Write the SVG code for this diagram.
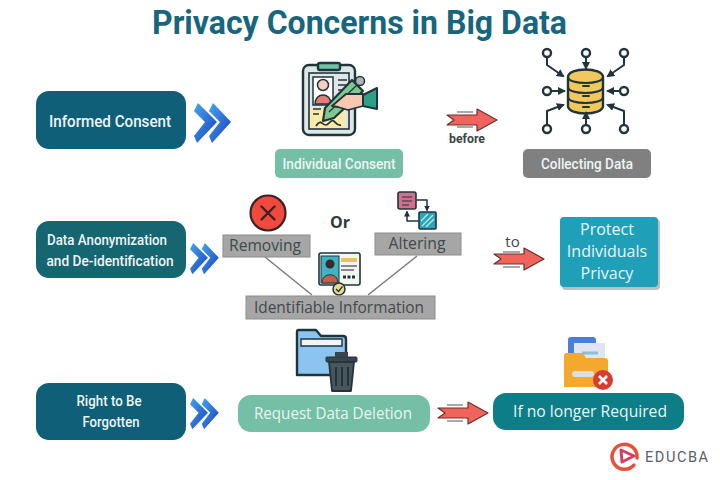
<svg xmlns="http://www.w3.org/2000/svg" width="720" height="480" viewBox="0 0 720 480">
<style>
text{font-family:"Roboto","Liberation Sans",sans-serif}
.c{text-anchor:middle}
.w{fill:#eef5f5;font-weight:500}
text.o{font-family:"Open Sans","Noto Sans",sans-serif}
.g{fill:#a6a6a6;stroke:#8c8c8c;stroke-width:1}
text.gt{fill:#3f4a4a;font-size:16px;font-family:"Open Sans","Noto Sans",sans-serif}
.ol{stroke:#20343c;stroke-width:2.4;stroke-linejoin:round;stroke-linecap:round}
.ln{fill:none;stroke:#20343c;stroke-width:2;stroke-linecap:round;stroke-linejoin:round}
.rd{fill:#f0645c;stroke:#6a3030;stroke-width:1.2;stroke-linejoin:round}
.sp{stroke:#555;stroke-width:1.2;fill:none}
.n{fill:#fff;stroke:#20343c;stroke-width:2.4}
</style>
<defs>
<linearGradient id="cv" x1="0" y1="0" x2="1" y2="1"><stop offset="0" stop-color="#43a6ea"/><stop offset="1" stop-color="#1a3fc0"/></linearGradient>
<g id="chev"><path d="M4 0L23 19L3 40L0 33L11 19L0 8Z" fill="url(#cv)"/><path d="M19 0L37 19L18 40L15 33L26 19L15 8Z" fill="url(#cv)"/></g>
<g id="arrow"><path class="rd" d="M0 -5H30V-11L50 0L30 11V5H0L7 0Z"/></g>
<marker id="ah" markerWidth="4" markerHeight="4" refX="3" refY="2" orient="auto"><path d="M0 0L4 2L0 4Z" fill="#20343c"/></marker>
</defs>
<rect width="720" height="480" fill="#fff"/>
<text id="title" class="c" x="359.500" y="34" font-size="34" font-weight="700" fill="#17667e" textLength="415" lengthAdjust="spacingAndGlyphs">Privacy Concerns in Big Data</text>

<g id="connectors">
<path d="M265 257L312 295M417 256L368 295" stroke="#7a7a7a" stroke-width="1.500" fill="none"/>
<g id="arrow-before"><use href="#arrow" x="447" y="120"/><path class="sp" d="M457 112H473M457 127H473"/></g>
<g id="arrow-to"><use href="#arrow" x="494" y="259"/><path class="sp" d="M503 252H520M503 267H520"/></g>
<g id="arrow-3"><use href="#arrow" x="438" y="413"/><path class="sp" d="M447 405H463M447 421H463"/></g>
<use href="#chev" x="194" y="103"/>
<g transform="translate(190 243) scale(.78)"><use href="#chev"/></g>
<g transform="translate(190 398) scale(.78)"><use href="#chev"/></g>
</g>

<g id="informed-consent"><rect x="36" y="91" width="150" height="58" rx="13" fill="#0f5f78"/><text class="c w" x="110" y="127" font-size="16" textLength="122" lengthAdjust="spacingAndGlyphs">Informed Consent</text></g>
<g id="data-anonymization"><rect x="36" y="221" width="150" height="57" rx="13" fill="#156670"/>
<text class="c w" x="107" y="245" font-size="14.500" textLength="120" lengthAdjust="spacingAndGlyphs">Data Anonymization</text>
<text class="c w" x="110" y="266" font-size="14.500" textLength="127" lengthAdjust="spacingAndGlyphs">and De-identification</text></g>
<g id="right-forgotten"><rect x="36" y="383" width="150" height="57" rx="13" fill="#0f5f78"/>
<text class="c w" x="109" y="406" font-size="14.500" textLength="65" lengthAdjust="spacingAndGlyphs">Right to Be</text>
<text class="c w" x="111" y="427" font-size="14.500" textLength="57" lengthAdjust="spacingAndGlyphs">Forgotten</text></g>

<g id="individual-consent">
<g id="consent-icon">
<rect x="303" y="65" width="52" height="70" rx="6" fill="#dfe6e8" class="ol"/>
<path d="M309 108H323L345 100V129H309Z" fill="#fde9a8"/>
<rect x="309" y="73" width="40" height="56" fill="none" stroke="#20343c" stroke-width="1.600"/>
<rect x="318" y="63" width="22" height="7" rx="2" fill="#6fc4a8" class="ol"/>
<rect x="313" y="77" width="20" height="28" fill="#fff" stroke="#20343c" stroke-width="1.500"/>
<circle cx="323" cy="85" r="5.500" fill="#f5d0c0" stroke="#20343c" stroke-width="1.500"/>
<path d="M315 104C315 92 331 92 331 104Z" fill="#e87a78" stroke="#20343c" stroke-width="1.500"/>
<path d="M338 80H347M338 85H347M338 90H345M313 109H321M313 114H319" stroke="#20343c" stroke-width="1.500"/>
<path d="M316 126C322 116 323 130 329 123S335 127 341 125" fill="none" stroke="#20343c" stroke-width="1.800"/>
<path d="M325 108L352 80L363 91L334 118L323 121Z" fill="#7fc98f" stroke="#20343c" stroke-width="2.200" stroke-linejoin="round"/>
<path d="M329 112L357 85" stroke="#20343c" stroke-width="1.200"/>
<circle cx="360" cy="81" r="4.500" fill="#aab6b6" stroke="#20343c" stroke-width="1.500"/>
<path d="M332 106L346 94H363V106L348 110L338 107Z" fill="#f6c8b0" stroke="#20343c" stroke-width="1.800" stroke-linejoin="round"/>
<path d="M363 95L377 88V109L363 106Z" fill="#2f9f88" stroke="#20343c" stroke-width="2" stroke-linejoin="round"/>
</g>
<rect x="275" y="149" width="128" height="29" rx="5" fill="#74bfa5"/><text class="c w" x="339" y="169" font-size="15" textLength="113" lengthAdjust="spacingAndGlyphs">Individual Consent</text>
</g>

<g id="collecting-data">
<g id="db-icon">
<path d="M568 77C568 67 603 67 603 77V106C603 116 568 116 568 106Z" fill="#f2c75c" stroke="#20343c" stroke-width="2.400"/>
<path d="M568 77C568 85 603 85 603 77M568 87C568 95 603 95 603 87M568 97C568 105 603 105 603 97" class="ln"/>
<path d="M583 86H589M583 96H589M583 107H589" class="ln"/>
<g marker-end="url(#ah)" class="ln">
<path d="M547 58V65L563 76"/><path d="M586 58V68"/><path d="M624 58V65L608 76"/>
<path d="M552 91H564"/><path d="M619 91H608"/>
<path d="M547 124V111L563 105"/><path d="M586 124V113"/><path d="M624 124V111L608 105"/>
</g>
<circle class="n" cx="547" cy="53" r="4"/><circle class="n" cx="586" cy="53" r="4"/><circle class="n" cx="624" cy="53" r="4"/>
<circle class="n" cx="547" cy="91" r="4"/><circle class="n" cx="624" cy="91" r="4"/>
<circle class="n" cx="547" cy="129" r="4"/><circle class="n" cx="586" cy="129" r="4"/><circle class="n" cx="624" cy="129" r="4"/>
</g>
<rect x="523" y="149" width="128" height="29" rx="5" fill="#808080"/><text class="c w" x="587" y="169" font-size="15" textLength="92" lengthAdjust="spacingAndGlyphs">Collecting Data</text>
</g>
<text id="before" class="c" x="467" y="143" font-size="13" font-weight="700" fill="#3c4646" textLength="36" lengthAdjust="spacingAndGlyphs">before</text>

<g id="removing">
<circle cx="268" cy="213" r="17.500" fill="#f04a3e" stroke="#3a2226" stroke-width="2.200"/>
<path d="M261.500 206.500L274.500 219.500M274.500 206.500L261.500 219.500" stroke="#3a2226" stroke-width="2.400" stroke-linecap="round"/>
<rect class="g" x="223" y="235" width="87" height="22"/><text class="c gt" x="265" y="251" textLength="72" lengthAdjust="spacingAndGlyphs">Removing</text>
</g>
<text id="or" class="c o" x="340" y="228" font-size="16" font-weight="700" fill="#2f3a3a">Or</text>
<g id="altering">
<rect x="398" y="192" width="18" height="17" rx="2" fill="#d0708c" stroke="#20343c" stroke-width="1.600"/>
<path d="M402 197H412M402 201H412M402 205H409" stroke="#20343c" stroke-width="1.200"/>
<rect x="419" y="212" width="17" height="17" rx="1" fill="#2aa6b8" stroke="#20343c" stroke-width="1.600"/>
<path d="M422 226L433 215M426 227L434 219M421 221L428 214" stroke="#bfe9ee" stroke-width="1.200"/>
<path class="ln" marker-end="url(#ah)" style="stroke-width:1.500" d="M417 200H427V210"/>
<path class="ln" marker-end="url(#ah)" style="stroke-width:1.500" d="M418 221H407V212"/>
<rect class="g" x="375" y="233" width="86" height="22"/><text class="c gt" x="417" y="249" textLength="57" lengthAdjust="spacingAndGlyphs">Altering</text>
</g>
<g id="identifiable-information">
<g id="id-icon">
<rect x="319" y="253" width="41" height="32" rx="2" fill="#f5f5f0" stroke="#20343c" stroke-width="1.600"/>
<rect x="321" y="256" width="18" height="27" fill="#3fb4c4" stroke="#20343c" stroke-width="1"/>
<circle cx="330" cy="264" r="4.500" fill="#3a2a2a"/>
<path d="M322 283C322 272 338 272 338 283Z" fill="#c0604c" stroke="#20343c" stroke-width="1"/>
<rect x="341" y="258" width="16" height="4" fill="#e8c25c"/>
<path d="M341 266H357M341 270H354" stroke="#667" stroke-width="1.500"/>
<path d="M343 277H355" stroke="#20343c" stroke-width="3" stroke-dasharray="3 1.500"/>
<circle cx="339" cy="289" r="6" fill="#e8dc8c" stroke="#20343c" stroke-width="1.500"/>
<path d="M336 289L338.500 291.500L342.500 286.500" fill="none" stroke="#20343c" stroke-width="1.400"/>
</g>
<rect class="g" x="246" y="296" width="189" height="23"/><text class="c gt" x="339" y="313" textLength="170" lengthAdjust="spacingAndGlyphs">Identifiable Information</text>
</g>
<text id="to" class="c o" x="512.500" y="247" font-size="15" fill="#3c4646">to</text>
<g id="protect"><rect x="562" y="219" width="98" height="71" rx="4" fill="#7f8a8c" opacity=".55"/><rect x="560" y="217" width="98" height="70" rx="4" fill="#1f9fb8"/>
<text class="c o" fill="#e8f6f8" font-size="16"><tspan x="607" y="235">Protect</tspan><tspan x="607" y="257">Individuals</tspan><tspan x="607" y="279">Privacy</tspan></text></g>

<g id="request-deletion">
<g id="trash-icon">
<path d="M297 332Q297 330 299 330H316L321 336H343Q346 336 346 339V375H297Z" fill="#8cc4f0" stroke="#20343c" stroke-width="2.400" stroke-linejoin="round"/>
<path d="M301 339H342V346H301Z" fill="#f0f4f5" stroke="#20343c" stroke-width="1.400"/>
<rect x="326" y="357" width="31" height="5" rx="1" fill="#3a444c" stroke="#20343c"/>
<rect x="335" y="352" width="13" height="5" fill="#3a444c"/>
<path d="M329 362H354L351 391H332Z" fill="#4a545c" stroke="#20343c" stroke-width="1.800" stroke-linejoin="round"/>
<path d="M336 367V386M342 367V386M348 367V386" stroke="#20343c" stroke-width="2"/>
</g>
<rect x="238" y="395" width="192" height="37" rx="13" fill="#74bfa5"/><text class="c o" x="333" y="419" fill="#e8f6f0" font-size="16" textLength="158" lengthAdjust="spacingAndGlyphs">Request Data Deletion</text>
</g>
<g id="no-longer">
<g id="folder-icon">
<path d="M571 337H592Q568 337 568 340V360H571Z" fill="#4a7fd8"/><rect x="568" y="337" width="28" height="24" rx="3" fill="#4a7fd8"/>
<path d="M574 343H605V372H574Z" fill="#dfe4f2"/>
<path d="M582 353H598M582 360H594" stroke="#8cc0d8" stroke-width="3"/>
<path d="M564 356Q564 353 567 353H583L586 358H605Q608 358 608 361V387H564Z" fill="#f2a92e"/>
<rect x="572" y="371" width="22" height="6" rx="3" fill="#d8e0e4"/>
<circle cx="603" cy="380" r="10" fill="#d83c30"/>
<path d="M599 376L607 384M607 376L599 384" stroke="#fff" stroke-width="2.600"/>
</g>
<rect x="493" y="393" width="191" height="37" rx="13" fill="#0d7d87"/><text class="c o" x="590" y="417" fill="#e8f6f8" font-size="16" textLength="154" lengthAdjust="spacingAndGlyphs">If no longer Required</text>
</g>
<g id="educba">
<path d="M637 458A12.500 12.500 0 1 0 634 465" fill="none" stroke="#e8503a" stroke-width="3.500" stroke-linecap="round"/>
<path d="M621 450L634 456L622 462Z" fill="none" stroke="#d83c60" stroke-width="3" stroke-linejoin="round"/>
<text x="645" y="462" font-size="14.500" fill="#5a6068" textLength="63">EDUCBA</text>
</g>
</svg>
